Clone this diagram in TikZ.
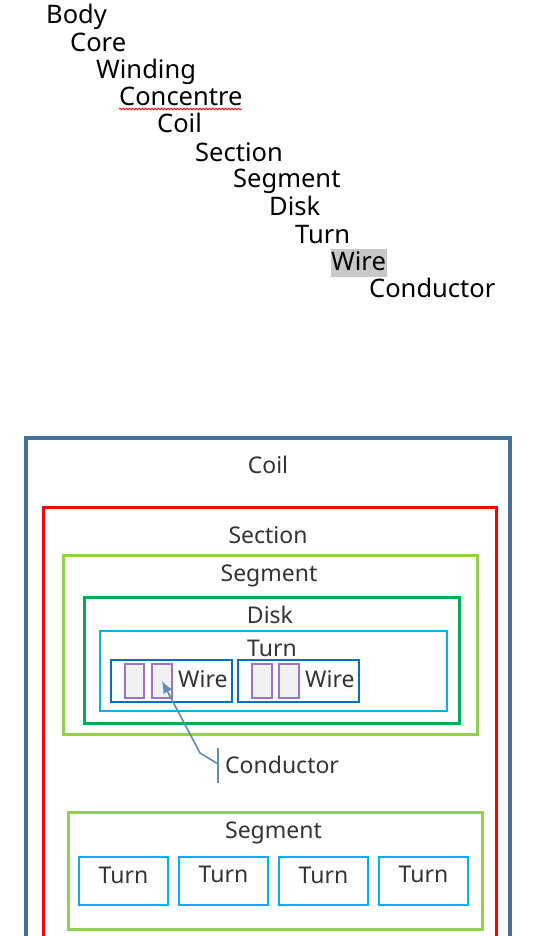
\documentclass[tikz,border=0pt]{standalone}
\usepackage{fontspec}
\setmainfont{Noto Sans}
\usetikzlibrary{decorations.pathmorphing,arrows.meta}
\definecolor{coilc}{HTML}{41719C}
\definecolor{sectc}{HTML}{FF0000}
\definecolor{segc}{HTML}{92D050}
\definecolor{diskc}{HTML}{00B050}
\definecolor{turnc}{HTML}{00B0F0}
\definecolor{wirec}{HTML}{0070C0}
\definecolor{condc}{HTML}{A070CC}
\definecolor{condfill}{HTML}{F0F0F0}
\definecolor{callc}{HTML}{5F8DB8}
\definecolor{txtc}{HTML}{333333}
\definecolor{hlc}{HTML}{C8C8C8}
\begin{document}
\begin{tikzpicture}[x=1pt,y=-1pt,
  toplbl/.style={anchor=base west, inner sep=0pt, text=black, font=\fontsize{25.5}{30}\selectfont},
  lbl/.style={anchor=base, inner sep=0pt, text=txtc, font=\fontsize{23}{27}\selectfont},
  boxnode/.style={draw, rectangle, inner sep=0pt, outer sep=0pt},
  segbox/.style={boxnode, draw=segc, line width=3pt},
  diskbox/.style={boxnode, draw=diskc, line width=3pt},
  turnbox/.style={boxnode, draw=turnc, line width=2pt},
  wirebox/.style={boxnode, draw=wirec, line width=2pt},
  condbox/.style={boxnode, draw=condc, fill=condfill, line width=1.3pt, minimum height=34pt},
  callline/.style={draw=callc, line width=1.6pt}
]
\useasboundingbox (0,0) rectangle (547,936);
\fill[white] (0,0) rectangle (547,936);

% ---- top hierarchy list ----
\fill[hlc] (331,249) rectangle (387,277);
\draw[sectc, line width=0.8pt, decorate, decoration={snake, amplitude=0.9pt, segment length=3.2pt}] (119,109) -- (242,109);
\node[toplbl] (tBody) at (46,24) {Body};
\node[toplbl] (tCore) at (70,52) {Core};
\node[toplbl] (tWinding) at (96,79) {Winding};
\node[toplbl] (tConcentre) at (119,106) {Concentre};
\node[toplbl] (tCoil) at (157,133) {Coil};
\node[toplbl] (tSection) at (195,161) {Section};
\node[toplbl] (tSegment) at (233,188) {Segment};
\node[toplbl] (tDisk) at (269,215) {Disk};
\node[toplbl] (tTurn) at (295,243) {Turn};
\node[toplbl] (tWire) at (331,270) {Wire};
\node[toplbl] (tConductor) at (369,297) {Conductor};

% ---- nested diagram ----
\draw[coilc, line width=4pt] (26,936) -- (26,438) -- (510,438) -- (510,936);
\node[lbl] (lCoil) at (268,473) {Coil};
\draw[sectc, line width=3pt] (43,936) -- (43,507) -- (496,507) -- (496,936);
\node[lbl] (lSection) at (268,543) {Section};

\node[segbox, minimum width=414pt, minimum height=179pt] (seg1) at (270,644.5) {};
\node[lbl] (lSeg1) at (269,581) {Segment};
\node[diskbox, minimum width=375pt, minimum height=126pt] (disk) at (271.5,660) {};
\node[lbl] (lDisk) at (270,623) {Disk};
\node[turnbox, minimum width=347pt, minimum height=80pt] (turn) at (273.5,671) {};
\node[lbl] (lTurn) at (272,656) {Turn};

\node[wirebox, minimum width=121pt, minimum height=42pt] (wire1) at (171.5,681) {};
\node[wirebox, minimum width=121pt, minimum height=42pt] (wire2) at (298.5,681) {};
\node[condbox, minimum width=19pt] (c1) at (134.5,681) {};
\node[condbox, minimum width=20pt] (c2) at (162,681) {};
\node[condbox, minimum width=20pt] (c3) at (262,681) {};
\node[condbox, minimum width=20pt] (c4) at (289,681) {};
\node[lbl, anchor=base west] (lWire1) at (178,687) {Wire};
\node[lbl, anchor=base west] (lWire2) at (305,687) {Wire};

% conductor callout
\coordinate (barTop) at (218,748);
\coordinate (barBot) at (218,783);
\coordinate (barMid) at (218,764);
\coordinate (bend) at (200,753);
\draw[callline] (barTop) -- (barBot);
\draw[callline, -{Latex[length=12pt,width=10pt]}] (barMid) -- (bend) -- (c2.center);
\node[lbl, anchor=base west] (lCond) at (225,773) {Conductor};

% second segment
\node[segbox, minimum width=414pt, minimum height=117pt] (seg2) at (275,870.5) {};
\node[lbl] (lSeg2) at (273.5,838) {Segment};
\node[turnbox, minimum width=89pt, minimum height=48pt] (tb1) at (123.5,881) {};
\node[turnbox, minimum width=89pt, minimum height=48pt] (tb2) at (223.5,881) {};
\node[turnbox, minimum width=89pt, minimum height=48pt] (tb3) at (323.5,881) {};
\node[turnbox, minimum width=89pt, minimum height=48pt] (tb4) at (423.5,881) {};
\node[lbl] (lt1) at (123.5,883) {Turn};
\node[lbl] (lt2) at (223.5,882) {Turn};
\node[lbl] (lt3) at (323.5,883) {Turn};
\node[lbl] (lt4) at (423.5,882) {Turn};
\end{tikzpicture}
\end{document}
